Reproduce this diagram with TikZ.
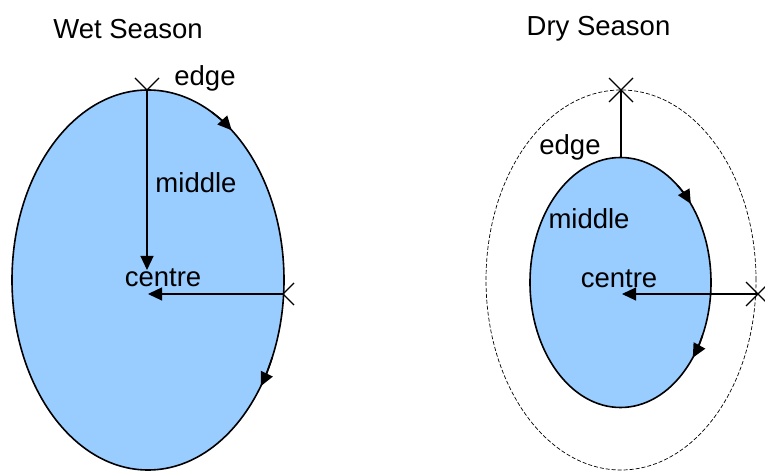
\documentclass[tikz,border=0pt]{standalone}
\usepackage{fontspec}
\setmainfont{Liberation Sans}
\usetikzlibrary{arrows.meta,calc}
\definecolor{lblue}{HTML}{99CCFF}
\tikzset{
  lbl/.style={font=\fontsize{27.5}{30}\selectfont, inner sep=0pt},
  xmark/.style={line width=1.1pt},
  rad/.style={line width=1.2pt},
  tip/.style={-{Triangle[length=14pt,width=13pt]}},
  rim/.style={line width=1.6pt},
}
\begin{document}
\begin{tikzpicture}[x=1pt,y=1pt]
\useasboundingbox (0,0) rectangle (765,471);
% ---------- Wet season ----------
\coordinate (wc) at (148,191);
\coordinate (wtop) at (147,381);
\coordinate (wright) at (283,177);
\draw[xmark] ($(wtop)+(-12,12)$) -- ($(wtop)+(12,-12)$) ($(wtop)+(12,12)$) -- ($(wtop)+(-12,-12)$);
\draw[xmark] ($(wright)+(-11,11)$) -- ($(wright)+(11,-11)$) ($(wright)+(11,11)$) -- ($(wright)+(-11,-11)$);
\draw[rim, fill=lblue] (wc) ellipse [x radius=136, y radius=190];
\draw[rim, tip] (wc) ++(62:136 and 190) arc[start angle=62, end angle=52, x radius=136, y radius=190];
\draw[rim, tip] (wc) ++(-24:136 and 190) arc[start angle=-24, end angle=-34, x radius=136, y radius=190];
\coordinate (wvt) at (147,201);
\coordinate (wht) at (148,177);
\draw[rad, tip] (wtop) -- (wvt);
\draw[rad, tip] (wright) -- (wht);
\node[lbl] (wtitle) at (128,442) {Wet Season};
\node[lbl] (wedge) at (205,393) {edge};
\node[lbl] (wmid) at (196,288) {middle};
\node[lbl] (wcen) at (163,193) {centre};
% ---------- Dry season ----------
\coordinate (dc) at (621,191);
\coordinate (ic) at (620.5,188.5);
\coordinate (dtop) at (621,381);
\coordinate (dright) at (758,177);
\draw[line width=0.7pt, dash pattern=on 4pt off 2pt] (dc) ellipse [x radius=135, y radius=190];
\draw[xmark] ($(dtop)+(-12,12)$) -- ($(dtop)+(12,-12)$) ($(dtop)+(12,12)$) -- ($(dtop)+(-12,-12)$);
\draw[xmark] ($(dright)+(-12,12)$) -- ($(dright)+(12,-12)$) ($(dright)+(12,12)$) -- ($(dright)+(-12,-12)$);
\draw[rim, fill=lblue] (ic) ellipse [x radius=90.5, y radius=125];
\draw[rim, tip] (ic) ++(51:90.5 and 125) arc[start angle=51, end angle=39, x radius=90.5, y radius=125];
\draw[rim, tip] (ic) ++(-25:90.5 and 125) arc[start angle=-25, end angle=-37, x radius=90.5, y radius=125];
\coordinate (itop) at (621,313.5);
\coordinate (dht) at (622,177);
\draw[rad] (dtop) -- (itop);
\draw[rad, tip] (dright) -- (dht);
\node[lbl] (dtitle) at (598.5,442) {Dry Season};
\node[lbl] (dedge) at (570,324) {edge};
\node[lbl] (dmid) at (589,252) {middle};
\node[lbl] (dcen) at (619,192) {centre};
\end{tikzpicture}
\end{document}
